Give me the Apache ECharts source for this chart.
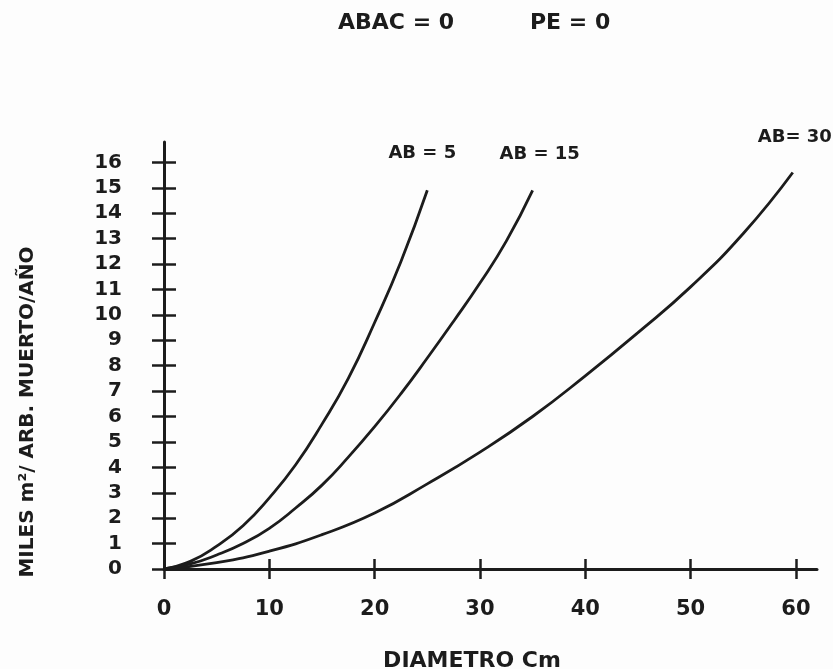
<!doctype html>
<html lang="es">
<head>
    <meta charset="UTF-8">
    <script src="https://cdn.jsdelivr.net/npm/echarts@6/dist/echarts.min.js"></script>
    <title>ABAC=0 PE=0</title>
    <style>
        html, body { margin: 0; padding: 0; background: #fdfdfd; }
    </style>
</head>
<body>
<div id="chart" style="width: 833px;height:669px;"></div>
<script>
    // datos (diametro en cm, miles m2 por arbol muerto por año)
    var diamAB5 = [0, 2.5, 5, 7.5, 10, 12.5, 15, 17.5, 20, 22.5, 25];
    var milesAB5 = [0, 0.3, 0.9, 1.7, 2.8, 4.1, 5.7, 7.5, 9.7, 12.1, 14.9];

    var diamAB15 = [0, 2.5, 5, 7.5, 10, 12.5, 15, 17.5, 20, 22.5, 25, 27.5, 30, 32.5, 35];
    var milesAB15 = [0, 0.2, 0.55, 1.0, 1.6, 2.4, 3.3, 4.4, 5.6, 6.9, 8.3, 9.75, 11.25, 12.9, 14.9];

    var diamAB30 = [0, 5, 10, 15, 20, 25, 30, 35, 40, 45, 50, 55, 59.7];
    var milesAB30 = [0, 0.25, 0.7, 1.35, 2.2, 3.35, 4.6, 6.0, 7.6, 9.3, 11.1, 13.2, 15.6];

    var xTicks = [0, 10, 20, 30, 40, 50, 60];
    var yTicks = [0, 1, 2, 3, 4, 5, 6, 7, 8, 9, 10, 11, 12, 13, 14, 15, 16];

    function pares(xs, ys) {
        var out = [];
        for (var i = 0; i < xs.length; i++) {
            out.push([xs[i], ys[i]]);
        }
        return out;
    }

    var tinta = '#1c1c1c';
    var fuente = 'DejaVu Sans';

    function curva(nombre, xs, ys, off) {
        return {
            name: nombre,
            type: 'line',
            smooth: true,
            symbol: 'none',
            data: pares(xs, ys),
            lineStyle: {color: tinta, width: 2.8},
            endLabel: {
                show: true,
                formatter: nombre,
                color: tinta,
                fontFamily: fuente,
                fontWeight: 'bold',
                fontSize: 18,
                align: 'center',
                verticalAlign: 'middle',
                distance: 0,
                offset: off
            }
        };
    }

    var myChart = echarts.init(document.getElementById('chart'));

    var option = {
        backgroundColor: '#fdfdfd',
        animation: false,
        grid: {left: 164, right: 16, top: 142, bottom: 100},
        graphic: [
            {type: 'text', left: 338, top: 12,
                style: {text: 'ABAC = 0', font: 'bold 22px ' + fuente, fill: tinta}},
            {type: 'text', left: 530, top: 12,
                style: {text: 'PE = 0', font: 'bold 22px ' + fuente, fill: tinta}},
            {type: 'text', x: 28, y: 412, rotation: Math.PI / 2,
                style: {text: 'MILES m²/ ARB. MUERTO/AÑO', font: 'bold 20px ' + fuente,
                    fill: tinta, align: 'center', verticalAlign: 'middle'}},
            {type: 'text', x: 472, y: 661,
                style: {text: 'DIAMETRO Cm', font: 'bold 22px ' + fuente, fill: tinta,
                    align: 'center', verticalAlign: 'middle'}}
        ],
        xAxis: [{
            type: 'value',
            min: 0,
            max: 62,
            splitLine: {show: false},
            axisLine: {show: true, onZero: false, lineStyle: {color: tinta, width: 3}},
            axisTick: {show: true, length: 10, customValues: xTicks, lineStyle: {color: tinta, width: 2.5}},
            axisLabel: {margin: 30, customValues: xTicks, color: tinta, fontFamily: fuente,
                fontWeight: 'bold', fontSize: 21}
        }, {
            type: 'value',
            position: 'bottom',
            min: 0,
            max: 62,
            splitLine: {show: false},
            axisLine: {show: false, onZero: false},
            axisTick: {show: true, inside: true, length: 10, customValues: xTicks, lineStyle: {color: tinta, width: 2.5}},
            axisLabel: {show: false}
        }],
        yAxis: [{
            type: 'value',
            min: 0,
            max: 16.8,
            splitLine: {show: false},
            axisLine: {show: true, onZero: false, lineStyle: {color: tinta, width: 3}},
            axisTick: {show: true, length: 12, customValues: yTicks, lineStyle: {color: tinta, width: 2.5}},
            axisLabel: {margin: 42, customValues: yTicks, color: tinta, fontFamily: fuente,
                fontWeight: 'bold', fontSize: 20, align: 'right'}
        }, {
            type: 'value',
            position: 'left',
            min: 0,
            max: 16.8,
            splitLine: {show: false},
            axisLine: {show: false, onZero: false},
            axisTick: {show: true, inside: true, length: 12, customValues: yTicks, lineStyle: {color: tinta, width: 2.5}},
            axisLabel: {show: false}
        }],
        series: [
            curva('AB = 5', diamAB5, milesAB5, [-5, -37]),
            curva('AB = 15', diamAB15, milesAB15, [7, -36]),
            curva('AB= 30', diamAB30, milesAB30, [2, -35])
        ]
    };

    myChart.setOption(option);
</script>
</body>
</html>
